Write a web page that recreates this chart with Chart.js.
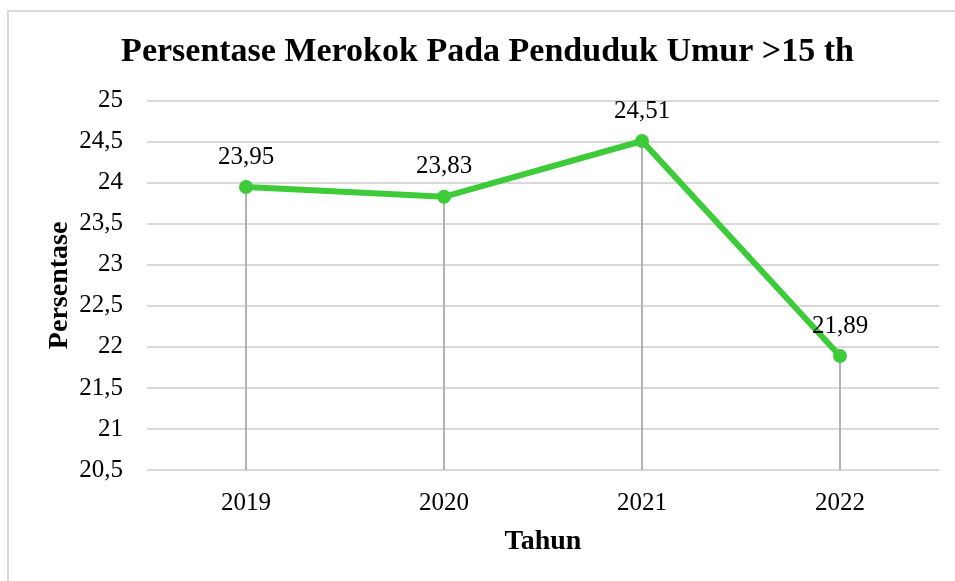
<!DOCTYPE html>
<html lang="id">
<head>
<meta charset="utf-8">
<title>Persentase Merokok</title>
<script src="https://cdn.jsdelivr.net/npm/chart.js@4.4.1/dist/chart.umd.min.js"></script>
<style>
    html, body { margin: 0; padding: 0; background: #fff; overflow: hidden; }
    #frame {
        position: absolute; left: 7px; top: 10px; width: 1000px; height: 1000px;
        border-top: 2px solid #d9d9d9; border-left: 2px solid #d9d9d9;
    }
    #wrap { position: absolute; left: 0; top: 0; width: 955px; height: 581px; }
</style>
</head>
<body>
<div id="frame"></div>
<div id="wrap"><canvas id="smokeChart" width="955" height="581"></canvas></div>
<script>
// Data
const years = ['2019', '2020', '2021', '2022'];
const persentase = [23.95, 23.83, 24.51, 21.89];
const yMin = 20.5;
const yMax = 25;
const yStep = 0.5;

const serif = "'Liberation Serif', 'Times New Roman', serif";
const green = '#3dcb3a';

// angka pakai koma desimal
function formatNum(v) {
    return String(v).replace('.', ',');
}

// garis vertikal dari titik ke sumbu x
const dropLines = {
    id: 'dropLines',
    beforeDatasetsDraw(chart) {
        const ctx = chart.ctx;
        const yScale = chart.scales.y;
        const meta = chart.getDatasetMeta(0);
        ctx.save();
        ctx.strokeStyle = '#b3b3b3';
        ctx.lineWidth = 2;
        meta.data.forEach(pt => {
            ctx.beginPath();
            ctx.moveTo(pt.x, pt.y);
            ctx.lineTo(pt.x, yScale.getPixelForValue(yMin));
            ctx.stroke();
        });
        ctx.restore();
    }
};

// label nilai di atas titik
const valueLabels = {
    id: 'valueLabels',
    afterDatasetsDraw(chart) {
        const ctx = chart.ctx;
        const meta = chart.getDatasetMeta(0);
        ctx.save();
        ctx.font = '25px ' + serif;
        ctx.fillStyle = '#000';
        ctx.textAlign = 'center';
        ctx.textBaseline = 'middle';
        meta.data.forEach((pt, i) => {
            ctx.fillText(formatNum(persentase[i]), pt.x, pt.y - 30);
        });
        ctx.restore();
    }
};

const ctx = document.getElementById('smokeChart').getContext('2d');
const smokeChart = new Chart(ctx, {
    type: 'line',
    data: {
        labels: years,
        datasets: [{
            label: 'Persentase',
            data: persentase,
            borderColor: green,
            backgroundColor: green,
            borderWidth: 6,
            pointRadius: 7,
            pointBorderWidth: 0,
            pointBackgroundColor: green,
            tension: 0
        }]
    },
    options: {
        responsive: false,
        animation: false,
        layout: { padding: { left: 36, right: 16, top: 0, bottom: 0 } },
        plugins: {
            legend: { display: false },
            tooltip: { enabled: false },
            title: {
                display: true,
                text: 'Persentase Merokok Pada Penduduk Umur >15 th',
                color: '#000',
                font: { family: serif, size: 34, weight: 'bold' },
                padding: { top: 32, bottom: 28 }
            }
        },
        scales: {
            x: {
                offset: true,
                grid: { display: false },
                border: { display: false },
                ticks: {
                    color: '#000',
                    font: { family: serif, size: 25 },
                    padding: 10
                },
                title: {
                    display: true,
                    text: 'Tahun',
                    color: '#000',
                    font: { family: serif, size: 28, weight: 'bold' },
                    padding: { top: 0, bottom: 22 }
                },
                afterFit(scale) { scale.height = 111; }
            },
            y: {
                min: yMin,
                max: yMax,
                grid: { color: '#d9d9d9', lineWidth: 2, drawTicks: false },
                border: { display: false },
                ticks: {
                    stepSize: yStep,
                    color: '#000',
                    font: { family: serif, size: 25 },
                    padding: 24,
                    callback: v => formatNum(v)
                },
                title: {
                    display: true,
                    text: 'Persentase',
                    color: '#000',
                    font: { family: serif, size: 28, weight: 'bold' },
                    padding: { top: 7, bottom: 0 }
                },
                afterFit(scale) { scale.width = 111; }
            }
        }
    },
    plugins: [dropLines, valueLabels]
});
</script>
</body>
</html>
